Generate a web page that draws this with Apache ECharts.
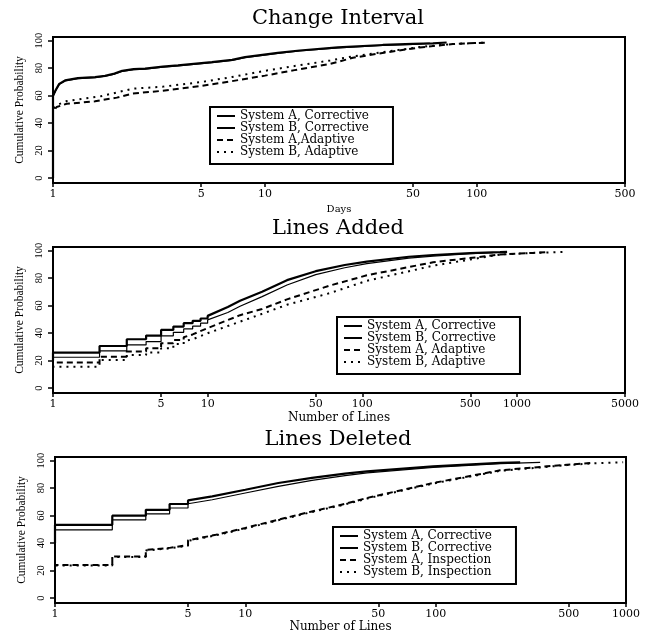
<!DOCTYPE html>
<html>
<head>
<meta charset="utf-8">
<script src="https://cdn.jsdelivr.net/npm/echarts@6/dist/echarts.min.js"></script>
<style>html,body{margin:0;padding:0;background:#fff;}#c{width:647px;height:635px;}</style>
</head>
<body>
<div id="c"></div>
<script>
// ---------- Panel 1: Change Interval (days) ----------
const ciTitle = 'Change Interval';
const ciXName = 'Days';
const ciTicks = [1, 5, 10, 50, 100, 500];
const ciNames = ['System A, Corrective', 'System B, Corrective', 'System A,Adaptive', 'System B, Adaptive'];
const ciACorX = [1, 1, 1.03, 1.07, 1.14, 1.31, 1.58, 1.76, 1.95, 2.12, 2.4, 2.72, 3.3, 3.89, 5.62, 7, 8.05, 11.5, 14.6, 22.1, 36, 50, 62, 72];
const ciACorY = [0, 60, 64, 68.5, 71, 72.7, 73.4, 74.4, 76, 78, 79.2, 79.6, 81, 82, 84.3, 86, 88, 91, 92.8, 95, 96.8, 97.6, 98, 98.6];
const ciBCorX = [1, 1, 1.03, 1.07, 1.14, 1.31, 1.58, 1.76, 1.95, 2.12, 2.4, 2.72, 3.3, 3.89, 5.62, 7, 8.05, 11.5, 14.6, 22.1, 36, 50, 60];
const ciBCorY = [0, 59, 63.5, 68, 70.6, 72.3, 73, 74, 75.5, 77.5, 78.8, 79.3, 80.6, 81.6, 84, 85.6, 87.5, 90.6, 92.4, 94.6, 96.4, 97.3, 98.2];
const ciAAdX = [1, 1, 1.04, 1.16, 1.58, 1.67, 2.0, 2.38, 3.3, 5, 7, 10, 13.8, 20.3, 26, 37.6, 53.8, 77, 109];
const ciAAdY = [0, 48, 51.7, 54, 55.8, 56.5, 58.5, 61.5, 63.5, 67, 70.5, 74.5, 78.5, 83, 87.5, 91.5, 95, 97.5, 98.5];
const ciBAdX = [1, 1, 1.04, 1.16, 1.67, 2.38, 3.3, 5, 7, 10, 13.8, 20.3, 26, 37.6, 53.8, 77, 112];
const ciBAdY = [0, 50, 53, 56, 59.4, 65, 66.5, 69.8, 73.5, 78, 81.5, 85.5, 88.5, 92, 95.3, 97.5, 98.6];

// ---------- Panel 2: Lines Added ----------
const laTitle = 'Lines Added';
const laXName = 'Number of Lines';
const laTicks = [1, 5, 10, 50, 100, 500, 1000, 5000];
const laNames = ['System A, Corrective', 'System B, Corrective', 'System A, Adaptive', 'System B, Adaptive'];
const laACorX = [1, 1, 2, 2, 3, 3, 4, 4, 5, 5, 6, 6, 7, 7, 8, 8, 9, 9, 10, 10, 13.5, 16.2, 22.5, 32.6, 50, 77, 107, 200, 287, 500, 778, 864];
const laACorY = [20, 25.8, 25.8, 30.6, 30.6, 35.5, 35.5, 38.2, 38.2, 42.3, 42.3, 44.7, 44.7, 47.2, 47.2, 48.9, 48.9, 50.6, 50.6, 52.5, 59, 63.5, 70, 78.5, 85, 89.5, 92, 95.5, 96.8, 98.2, 98.8, 99];
const laBCorX = [1, 1, 2, 2, 3, 3, 4, 4, 5, 5, 6, 6, 7, 7, 8, 8, 9, 9, 10, 10, 13.5, 16.2, 22.5, 32.6, 50, 77, 107, 200, 287, 500, 700];
const laBCorY = [18, 22.4, 22.4, 27, 27, 31.4, 31.4, 33.8, 33.8, 38, 38, 40.5, 40.5, 43, 43, 45, 45, 47.2, 47.2, 49.6, 55, 59.5, 66.5, 75, 82.5, 87.5, 90.5, 94.5, 96, 97.8, 98.5];
const laAAdX = [1, 1, 2, 2, 3, 3, 4, 4, 5, 5, 6, 6, 7, 7, 8, 10, 16.2, 22.5, 32.6, 61.5, 107, 287, 778, 1274, 1600];
const laAAdY = [14, 18.5, 18.5, 22.8, 22.8, 26.5, 26.5, 29, 29, 32.6, 32.6, 35, 35, 37, 39, 43.6, 53, 57.5, 64.5, 74.5, 82, 91.5, 97.1, 98.3, 99];
const laBAdX = [1, 1, 2, 2, 3, 3, 4, 4, 5, 5, 6, 6, 7, 7, 8, 10, 22.5, 32.6, 61.5, 107, 287, 778, 1274, 2000];
const laBAdY = [10, 15.5, 15.5, 20.4, 20.4, 24, 24, 25.8, 25.8, 29, 29, 32, 32, 34, 35.5, 39.9, 54, 60.6, 69, 78, 89, 97.1, 98.3, 99];

// ---------- Panel 3: Lines Deleted ----------
const ldTitle = 'Lines Deleted';
const ldXName = 'Number of Lines';
const ldTicks = [1, 5, 10, 50, 100, 500, 1000];
const ldNames = ['System A, Corrective', 'System B, Corrective', 'System A, Inspection', 'System B, Inspection'];
const ldACorX = [1, 1, 2, 2, 3, 3, 4, 4, 5, 5, 6.7, 10, 14.9, 22.4, 33.4, 43.6, 96.9, 218, 278];
const ldACorY = [40, 53.3, 53.3, 59.9, 59.9, 64.2, 64.2, 68.4, 68.4, 71, 74, 78.8, 83.7, 87.4, 90.5, 92.2, 95.8, 98.3, 98.7];
const ldBCorX = [1, 1, 2, 2, 3, 3, 4, 4, 5, 5, 6.7, 10, 14.9, 22.4, 33.4, 43.6, 96.9, 218, 354];
const ldBCorY = [38, 49.6, 49.6, 56.9, 56.9, 61.3, 61.3, 65.5, 65.5, 68.6, 71.5, 76.4, 81.2, 85.6, 89, 91, 95, 97.8, 98.7];
const ldAInX = [1, 1, 2, 2, 3, 3, 4, 4, 5, 5, 7, 10, 14.9, 22.4, 33.4, 43.6, 96.9, 218, 490, 671];
const ldAInY = [15, 24.1, 24.1, 30.2, 30.2, 35, 36.5, 37.5, 38.5, 42, 46, 51, 57, 63, 68.5, 72.8, 83.7, 92.9, 97, 98.3];
const ldBInX = [1, 1, 2, 2, 3, 3, 4, 4, 5, 5, 7, 10, 14.9, 22.4, 33.4, 43.6, 96.9, 218, 490, 671, 966];
const ldBInY = [14, 23.7, 23.7, 29.8, 29.8, 34.6, 36.1, 37.1, 38.1, 41.6, 45.6, 50.6, 56.6, 62.6, 68.1, 72.4, 83.3, 92.5, 96.7, 98, 98.8];

const yTicks = [0, 20, 40, 60, 80, 100];

// ---------- build ----------
const serif = 'DejaVu Serif';
const times = 'Liberation Serif';
const styles = [
  { type: 'solid', width: 2.2 },
  { type: 'solid', width: 1.2 },
  { type: [6, 4], width: 2 },
  { type: [2, 5], width: 2 }
];
const panels = [
  { title: ciTitle, xName: ciXName, ticks: ciTicks, names: ciNames, max: 500,
    xs: [ciACorX, ciBCorX, ciAAdX, ciBAdX], ys: [ciACorY, ciBCorY, ciAAdY, ciBAdY] },
  { title: laTitle, xName: laXName, ticks: laTicks, names: laNames, max: 5000,
    xs: [laACorX, laBCorX, laAAdX, laBAdX], ys: [laACorY, laBCorY, laAAdY, laBAdY] },
  { title: ldTitle, xName: ldXName, ticks: ldTicks, names: ldNames, max: 1000,
    xs: [ldACorX, ldBCorX, ldAInX, ldBInX], ys: [ldACorY, ldBCorY, ldAInY, ldBInY] }
];
const layout = [
  { left: 53, right: 22, top: 37, titleTop: 8, nameGap: 21, nameSize: 10, legend: { left: 210, top: 107 } },
  { left: 53, right: 22, top: 247, titleTop: 218, nameGap: 19, nameSize: 12, legend: { left: 337, top: 317 } },
  { left: 55, right: 21, top: 457, titleTop: 429, nameGap: 18, nameSize: 12, legend: { left: 333, top: 527 } }
];

const option = {
  animation: false,
  backgroundColor: '#fff',
  title: [], grid: [], xAxis: [], yAxis: [], legend: [], series: []
};

panels.forEach((p, i) => {
  const L = layout[i];
  option.title.push({
    text: p.title, left: 338, top: L.titleTop, textAlign: 'center', padding: 0,
    textStyle: { fontFamily: serif, fontSize: 21, fontWeight: 'normal', color: '#000' }
  });
  option.grid.push({
    left: L.left, right: L.right, top: L.top, height: 146,
    show: true, borderColor: '#000', borderWidth: 2, backgroundColor: 'transparent',
    outerBoundsMode: 'none'
  });
  option.xAxis.push({
    type: 'log', logBase: 10, gridIndex: i, min: 1, max: p.max,
    name: p.xName, nameLocation: 'middle', nameGap: L.nameGap,
    nameTextStyle: { fontFamily: serif, fontSize: L.nameSize, color: '#000' },
    axisLine: { onZero: false, lineStyle: { color: '#000', width: 2 } },
    axisTick: { show: true, inside: false, length: 4, customValues: p.ticks, lineStyle: { color: '#000', width: 1.5 } },
    axisLabel: { customValues: p.ticks, margin: 6, fontFamily: serif, fontSize: 11, color: '#000',
      formatter: v => String(Math.round(v)) },
    minorTick: { show: false }, splitLine: { show: false }, minorSplitLine: { show: false }
  });
  option.yAxis.push({
    type: 'value', gridIndex: i, min: -3.6, max: 102.6,
    name: 'Cumulative Probability', nameLocation: 'middle', nameGap: 27, nameRotate: 90,
    nameTextStyle: { fontFamily: times, fontSize: 11.5, color: '#000' },
    axisLine: { show: true, lineStyle: { color: '#000', width: 2 } },
    axisTick: { show: true, inside: false, length: 5, customValues: yTicks, lineStyle: { color: '#000', width: 1.5 } },
    axisLabel: { customValues: yTicks, rotate: 90, margin: 8, fontFamily: times, fontSize: 10.5, color: '#000' },
    splitLine: { show: false }
  });
  option.legend.push({
    data: p.names.slice(), orient: 'vertical', left: L.legend.left, top: L.legend.top,
    selectedMode: false, itemGap: 0, itemWidth: 18, itemHeight: 8,
    padding: [3, 24, 6, 6], borderColor: '#000', borderWidth: 2, backgroundColor: '#fff',
    itemStyle: { color: 'rgba(0,0,0,0)', borderWidth: 0, borderColor: 'rgba(0,0,0,0)', opacity: 0 },
    textStyle: { fontFamily: serif, fontSize: 12, color: '#000', lineHeight: 9.5 }
  });
  p.names.forEach((nm, k) => {
    option.series.push({
      name: nm, type: 'line', xAxisIndex: i, yAxisIndex: i,
      showSymbol: false, symbol: 'none', smooth: false,
      lineStyle: { color: '#000', type: styles[k].type, width: styles[k].width },
      itemStyle: { color: '#000' },
      emphasis: { disabled: true },
      data: p.xs[k].map((x, j) => [x, p.ys[k][j]])
    });
  });
});

const chart = echarts.init(document.getElementById('c'), null, { renderer: 'canvas' });
chart.setOption(option);
</script>
</body>
</html>
